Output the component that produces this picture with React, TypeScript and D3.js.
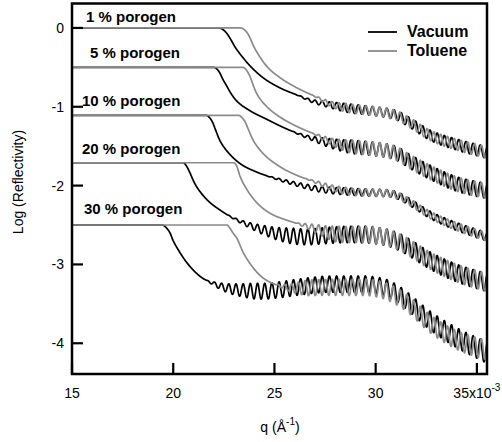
import React from "react";
import * as d3 from "d3";

// q in units of 1e-3 A^-1, values are log10(reflectivity) (curves are offset)
const samples = ["1 %", "5 %", "10 %", "20 %", "30 %"];
const yTicks = [0, -1, -2, -3, -4];
const xTicks = [15, 20, 25, 30, 35];

// mean trace of each curve
const vacuum1 = [[15, 0], [22.25, 0], [22.45, -0.02], [22.65, -0.07], [22.85, -0.15], [23.05, -0.24], [23.3, -0.33], [23.79, -0.48], [24.43, -0.63], [25.27, -0.76], [26.11, -0.85], [26.9, -0.93], [27.74, -0.975], [28.58, -1.015], [29.72, -1.05], [30.6, -1.08], [31.05, -1.11], [31.69, -1.2], [32.68, -1.36], [34.01, -1.48], [35.5, -1.58]];
const toluene1 = [[15, 0], [23.35, 0], [23.5, -0.02], [23.65, -0.06], [23.8, -0.13], [23.97, -0.23], [24.14, -0.31], [24.63, -0.49], [25.27, -0.63], [26.11, -0.76], [27.1, -0.88], [27.74, -0.96], [28.58, -1.015], [29.72, -1.05], [30.6, -1.08], [31.05, -1.11], [31.69, -1.2], [32.68, -1.36], [34.01, -1.48], [35.5, -1.58]];
const vacuum5 = [[15, -0.5], [22.0, -0.5], [22.15, -0.52], [22.3, -0.57], [22.45, -0.65], [22.65, -0.74], [22.85, -0.83], [23.15, -0.93], [23.79, -1.05], [24.63, -1.16], [25.42, -1.26], [26.26, -1.35], [27.1, -1.42], [27.89, -1.47], [28.58, -1.5], [29.72, -1.53], [30.6, -1.56], [31.1, -1.6], [31.6, -1.68], [32.68, -1.83], [34.01, -1.98], [35.5, -2.07]];
const toluene5 = [[15, -0.5], [23.45, -0.5], [23.6, -0.53], [23.8, -0.62], [23.97, -0.74], [24.14, -0.84], [24.63, -1.0], [25.27, -1.13], [26.11, -1.25], [27.1, -1.36], [27.89, -1.45], [28.58, -1.495], [29.72, -1.53], [30.6, -1.56], [31.1, -1.6], [31.6, -1.68], [32.68, -1.83], [34.01, -1.98], [35.5, -2.07]];
const vacuum10 = [[15, -1.11], [21.65, -1.11], [21.8, -1.14], [21.95, -1.2], [22.1, -1.3], [22.31, -1.43], [22.65, -1.56], [23.3, -1.72], [24.14, -1.83], [24.93, -1.9], [25.62, -1.95], [26.9, -2.03], [27.74, -2.06], [28.6, -2.075], [29.72, -2.09], [30.7, -2.1], [31.2, -2.14], [31.69, -2.21], [32.68, -2.37], [34.01, -2.52], [35.5, -2.65]];
const toluene10 = [[15, -1.11], [23.25, -1.11], [23.4, -1.14], [23.55, -1.19], [23.7, -1.28], [23.94, -1.42], [24.43, -1.59], [25.27, -1.76], [26.11, -1.87], [27.1, -1.96], [27.74, -2.02], [28.6, -2.07], [29.72, -2.09], [30.7, -2.1], [31.2, -2.14], [31.69, -2.21], [32.68, -2.37], [34.01, -2.52], [35.5, -2.65]];
const vacuum20 = [[15, -1.71], [20.5, -1.71], [20.65, -1.75], [20.83, -1.84], [21.0, -1.94], [21.17, -2.02], [21.67, -2.18], [22.31, -2.31], [22.95, -2.41], [23.64, -2.49], [24.28, -2.55], [25.12, -2.61], [25.91, -2.64], [26.6, -2.65], [27.74, -2.63], [28.6, -2.62], [29.37, -2.62], [30.2, -2.64], [30.7, -2.67], [31.2, -2.72], [31.69, -2.79], [32.68, -2.95], [34.01, -3.11], [35.5, -3.23]];
const toluene20 = [[15, -1.71], [23.0, -1.71], [23.15, -1.76], [23.3, -1.88], [23.64, -2.05], [24.14, -2.22], [24.78, -2.35], [25.62, -2.44], [26.41, -2.5], [27.1, -2.55], [27.74, -2.6], [28.6, -2.62], [29.37, -2.62], [30.2, -2.64], [30.7, -2.67], [31.2, -2.72], [31.69, -2.79], [32.68, -2.95], [34.01, -3.11], [35.5, -3.23]];
const vacuum30 = [[15, -2.5], [19.45, -2.5], [19.6, -2.52], [19.84, -2.6], [20.0, -2.7], [20.19, -2.79], [20.68, -2.98], [21.32, -3.15], [21.96, -3.24], [22.65, -3.3], [23.5, -3.33], [24.43, -3.34], [25.3, -3.32], [26.11, -3.29], [27.74, -3.25], [29.37, -3.25], [30.1, -3.27], [30.56, -3.3], [31.0, -3.36], [31.54, -3.46], [32.68, -3.71], [34.01, -3.93], [35.5, -4.12]];
const toluene30 = [[15, -2.5], [22.65, -2.5], [22.8, -2.54], [22.95, -2.6], [23.15, -2.67], [23.44, -2.84], [23.94, -3.04], [24.43, -3.17], [25.12, -3.26], [26.11, -3.3], [27.74, -3.29], [29.37, -3.29], [30.1, -3.31], [30.7, -3.36], [31.54, -3.49], [32.68, -3.75], [34.01, -3.96], [35.5, -4.09]];

// Kiessig fringe half-height (log units) along q
const vacuum1Amp = [[26.0, 0], [26.8, 0.018], [27.6, 0.035], [28.5, 0.055], [31, 0.06], [35.5, 0.075]];
const toluene1Amp = [[26.8, 0], [27.5, 0.025], [28.5, 0.055], [31, 0.06], [35.5, 0.075]];
const vacuum5Amp = [[25.8, 0], [26.8, 0.025], [27.8, 0.06], [28.8, 0.085], [35.5, 0.095]];
const toluene5Amp = [[26.8, 0], [27.6, 0.035], [28.8, 0.085], [35.5, 0.095]];
const vacuum10Amp = [[24.5, 0], [25.5, 0.018], [27, 0.035], [28.5, 0.045], [32, 0.045], [35.5, 0.055]];
const toluene10Amp = [[26.5, 0], [27.5, 0.03], [28.5, 0.045], [32, 0.045], [35.5, 0.055]];
const vacuum20Amp = [[22.6, 0], [23.5, 0.025], [24.5, 0.06], [25.8, 0.1], [35.5, 0.115]];
const toluene20Amp = [[26.0, 0], [27.0, 0.05], [28.0, 0.1], [35.5, 0.115]];
const vacuum30Amp = [[21.6, 0], [22.2, 0.035], [23.0, 0.07], [24.0, 0.1], [30, 0.105], [35.5, 0.135]];
const toluene30Amp = [[25.0, 0], [25.8, 0.05], [26.6, 0.1], [30, 0.105], [35.5, 0.125]];

// fringe spacing (1e-3 A^-1), toluene-swollen films are thicker
const vacuumSpacing = [0.355, 0.355, 0.355, 0.355, 0.355];
const tolueneSpacing = [0.335, 0.335, 0.335, 0.335, 0.335];

const vacuumCurves = [vacuum1, vacuum5, vacuum10, vacuum20, vacuum30];
const tolueneCurves = [toluene1, toluene5, toluene10, toluene20, toluene30];
const vacuumAmps = [vacuum1Amp, vacuum5Amp, vacuum10Amp, vacuum20Amp, vacuum30Amp];
const tolueneAmps = [toluene1Amp, toluene5Amp, toluene10Amp, toluene20Amp, toluene30Amp];

const W = 502, H = 442;
const FONT = "'Liberation Sans', Arial, Helvetica, sans-serif";
const labelPos = [[86, 22], [90, 58], [82, 106], [82, 154], [84, 214]];

// Fritsch-Carlson monotone cubic through the read points
function monotone(pts: number[][]) {
  const xs = pts.map((p) => p[0]), ys = pts.map((p) => p[1]);
  const n = xs.length;
  const d: number[] = [];
  for (let i = 0; i < n - 1; i++) d.push((ys[i + 1] - ys[i]) / (xs[i + 1] - xs[i]));
  const m: number[] = [d[0]];
  for (let i = 1; i < n - 1; i++) m.push(d[i - 1] * d[i] <= 0 ? 0 : (d[i - 1] + d[i]) / 2);
  m.push(d[n - 2]);
  for (let i = 0; i < n - 1; i++) {
    if (d[i] === 0) { m[i] = 0; m[i + 1] = 0; continue; }
    const a = m[i] / d[i], b = m[i + 1] / d[i];
    const s = a * a + b * b;
    if (s > 9) { const t = 3 / Math.sqrt(s); m[i] = t * a * d[i]; m[i + 1] = t * b * d[i]; }
  }
  return (x: number) => {
    let i = d3.bisectRight(xs, x) - 1;
    i = Math.max(0, Math.min(n - 2, i));
    const h = xs[i + 1] - xs[i], t = (x - xs[i]) / h;
    const t2 = t * t, t3 = t2 * t;
    return (2 * t3 - 3 * t2 + 1) * ys[i] + (t3 - 2 * t2 + t) * h * m[i] +
      (-2 * t3 + 3 * t2) * ys[i + 1] + (t3 - t2) * h * m[i + 1];
  };
}

function trace(mean: number[][], amp: number[][], spacing: number) {
  const f = monotone(mean);
  const a = d3.scaleLinear().domain(amp.map((p) => p[0])).range(amp.map((p) => p[1])).clamp(true);
  return d3.range(15, 35.501, 0.01).map((q) => [q, f(q) + a(q) * Math.cos((2 * Math.PI * (q - 30.2)) / spacing)]);
}

export default function App() {
  const x = d3.scaleLinear().domain([15, 35.5]).range([72, 487]);
  const y = d3.scaleLinear().domain([0.31, -4.39]).range([3.5, 374]);
  const line = d3.line<number[]>().x((d) => x(d[0])).y((d) => y(d[1]));

  const black = "#000";
  const gray = "#8a8a8a";

  return (
    <svg width={W} height={H} style={{ position: "absolute", left: 0, top: 0, background: "#fff" }} fontFamily={FONT}>
      <defs>
        <clipPath id="plot">
          <rect x={x(15)} y={y(0.31)} width={x(35.5) - x(15)} height={y(-4.39) - y(0.31)} />
        </clipPath>
      </defs>
      <g clipPath="url(#plot)" fill="none" strokeWidth={1.7} strokeLinejoin="round">
        {samples.map((s, i) => (
          <g key={s}>
            <path d={line(trace(vacuumCurves[i], vacuumAmps[i], vacuumSpacing[i])) || ""} stroke={black} />
            <path d={line(trace(tolueneCurves[i], tolueneAmps[i], tolueneSpacing[i])) || ""} stroke={gray} />
          </g>
        ))}
      </g>

      {/* frame */}
      <rect x={x(15)} y={y(0.31)} width={x(35.5) - x(15)} height={y(-4.39) - y(0.31)} fill="none" stroke="#000" strokeWidth={2.5} />

      {/* ticks */}
      {yTicks.map((t) => (
        <g key={"y" + t}>
          <line x1={x(15)} x2={x(15) + 11} y1={y(t)} y2={y(t)} stroke="#000" strokeWidth={2.2} />
          <text x={64} y={y(t) + 5} textAnchor="end" fontSize={14}>{String(t)}</text>
        </g>
      ))}
      {xTicks.map((t) => (
        <g key={"x" + t}>
          <line x1={x(t)} x2={x(t)} y1={y(-4.39)} y2={y(-4.39) - 11} stroke="#000" strokeWidth={2.2} />
          {t === 35 ? (
            <text x={x(t)} y={398} textAnchor="middle" fontSize={14}>
              35x10<tspan fontSize={10} dy={-7}>-3</tspan>
            </text>
          ) : (
            <text x={x(t)} y={398} textAnchor="middle" fontSize={14}>{t}</text>
          )}
        </g>
      ))}

      {/* axis titles */}
      <text x={280} y={432} textAnchor="middle" fontSize={14}>
        q (Å<tspan fontSize={10} dy={-7}>-1</tspan><tspan dy={7}>)</tspan>
      </text>
      <text transform="translate(23,182) rotate(-90)" textAnchor="middle" fontSize={14}>Log (Reflectivity)</text>

      {/* sample labels */}
      {samples.map((s, i) => (
        <text key={"l" + s} x={labelPos[i][0]} y={labelPos[i][1]} fontSize={15} fontWeight="bold">{s} porogen</text>
      ))}

      {/* legend */}
      <line x1={368} x2={397} y1={32} y2={32} stroke={black} strokeWidth={1.8} />
      <text x={407} y={37} fontSize={16} fontWeight="bold">Vacuum</text>
      <line x1={368} x2={397} y1={51} y2={51} stroke={gray} strokeWidth={1.8} />
      <text x={407} y={56} fontSize={16} fontWeight="bold">Toluene</text>
    </svg>
  );
}
